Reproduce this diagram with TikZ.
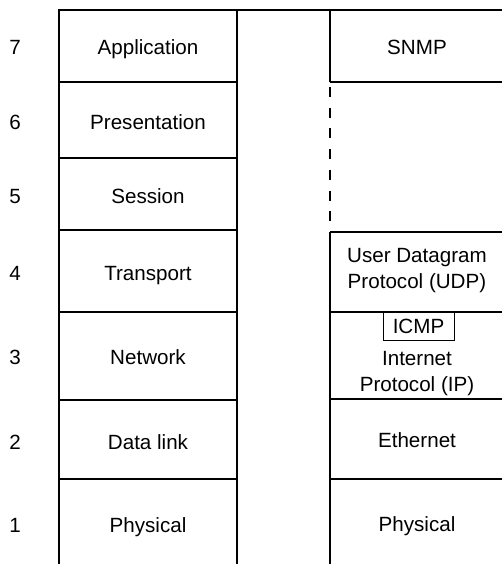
\documentclass[tikz,border=0pt]{standalone}
\usepackage{fontspec}
\setmainfont{Liberation Sans}
\usetikzlibrary{positioning}

\begin{document}
\begin{tikzpicture}[
  x=0.5pt, y=-0.5pt,
  layer/.style={font=\fontsize{10.3}{13.3}\selectfont, align=center, inner sep=0pt},
  num/.style={font=\fontsize{10.3}{13.3}\selectfont, inner sep=0pt, anchor=base},
  stack/.style={line width=0.6pt},
  gapline/.style={line width=0.6pt, dash pattern=on 5pt off 5.35pt, dash phase=7.85pt},
  tag/.style={draw, line width=0.5pt, minimum width=35.5pt, minimum height=14pt, inner sep=0pt, font=\fontsize{10.3}{13.3}\selectfont}
]
\useasboundingbox (0,0) rectangle (502,564);

% OSI stack
\draw[stack] (59,564) -- (59,10) -- (502,10);
\draw[stack] (237,10) -- (237,564);
\foreach \y in {82,158,230,312,400,479}
  \draw[stack] (59,\y) -- (237,\y);

\foreach \n/\y/\txt in {7/54/Application, 6/129/Presentation, 5/203.5/Session, 4/280/Transport, 3/364.5/Network, 2/449/Data link, 1/532/Physical} {
  \node[num] (num\n) at (15,\y) {\n};
  \node[layer, anchor=base] (osi\n) at (148,\y) {\txt};
}

% SNMP stack
\draw[stack] (330,82) -- (330,10);
\draw[gapline] (330,82) -- (330,226);
\draw[stack] (330,232) -- (330,564);
\foreach \y in {82,232,312,399,479}
  \draw[stack] (330,\y) -- (502,\y);

\node[layer, anchor=base] (snmp) at (417,54) {SNMP};
\node[layer] (udp) at (417,270.5) {User Datagram\\Protocol (UDP)};
\node[tag] (icmp) at (418.5,326) {ICMP};
\node[layer] (ip) at (417,373.5) {Internet\\Protocol (IP)};
\node[layer, anchor=base] (eth) at (417,447.5) {Ethernet};
\node[layer, anchor=base] (phys) at (417,531.5) {Physical};
\end{tikzpicture}
\end{document}
